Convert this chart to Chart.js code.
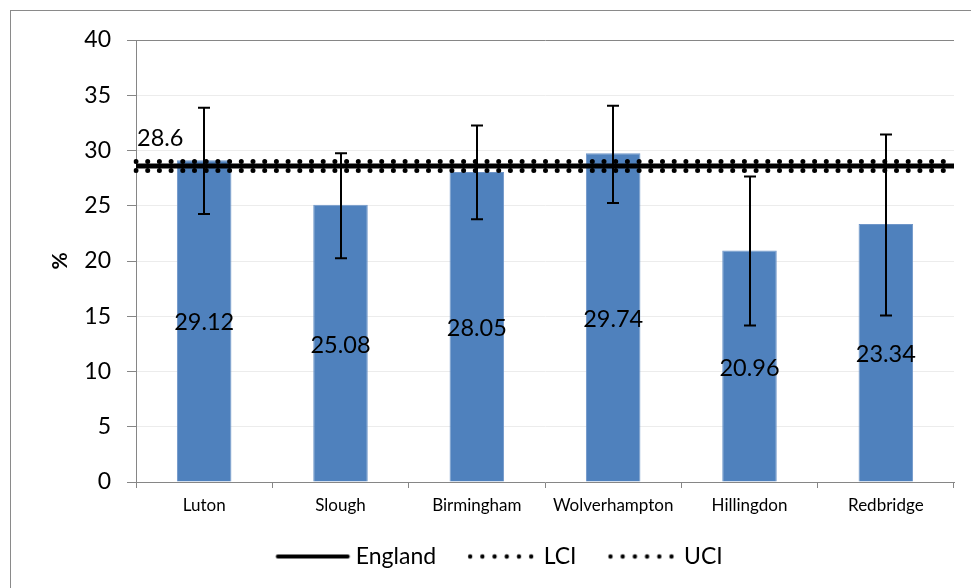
<!DOCTYPE html>
<html>
<head>
<meta charset="utf-8">
<script src="https://cdn.jsdelivr.net/npm/chart.js@4/dist/chart.umd.min.js"></script>
<style>
  html, body { margin: 0; padding: 0; background: #fff; overflow: hidden; }
  #chart { display: block; }
</style>
</head>
<body>
<canvas id="chart" width="971" height="588"></canvas>
<script>
/* Bar chart of area rates with 95% CI whiskers vs England average + CI band. */

const areas   = ["Luton", "Slough", "Birmingham", "Wolverhampton", "Hillingdon", "Redbridge"];
const rates   = [29.12, 25.08, 28.05, 29.74, 20.96, 23.34];
const ciLow   = [24.25, 20.26, 23.77, 25.25, 14.16, 15.07];
const ciHigh  = [33.86, 29.76, 32.27, 34.05, 27.64, 31.45];
const england = 28.6;
const engLCI  = 28.2;
const engUCI  = 29.0;
const yTicks  = { min: 0, max: 40, step: 5 };

const FONT = "Lato, 'Open Sans', sans-serif";
const AXIS_GREY = "#868686";
const BAR_BLUE = "#4f81bd";

// ----- legend samples (drawn into small canvases, used as point styles) -----
function legendSample(kind) {
  const c = document.createElement("canvas");
  c.width = 106; c.height = 8;
  const g = c.getContext("2d");
  g.fillStyle = "#000"; g.strokeStyle = "#000";
  if (kind === "solid") {
    g.lineWidth = 4; g.lineCap = "round";
    g.beginPath(); g.moveTo(29.5, 4); g.lineTo(99.5, 4); g.stroke();
  } else {
    for (let i = 0; i < 6; i++) {
      g.beginPath(); g.arc(34 + i * 12.2, 4, 2.2, 0, Math.PI * 2); g.fill();
    }
  }
  return c;
}
const samples = [legendSample("solid"), legendSample("dots"), legendSample("dots")];

// ----- plugin: frame, error bars, value labels, England label -----
const extras = {
  id: "extras",
  beforeDraw(chart) {
    const ctx = chart.ctx;
    ctx.save();
    ctx.fillStyle = "#fff";
    ctx.fillRect(0, 0, chart.width, chart.height);
    ctx.strokeStyle = "#8a8a8a";
    ctx.lineWidth = 1;
    ctx.strokeRect(10.5, 10.5, 1200, 1200);
    ctx.restore();
  },
  afterDatasetsDraw(chart) {
    const ctx = chart.ctx;
    const y = chart.scales.y;
    const meta = chart.getDatasetMeta(0);
    ctx.save();
    // error bars
    ctx.strokeStyle = "#000";
    ctx.lineWidth = 2;
    meta.data.forEach((bar, i) => {
      const x = Math.round(bar.x);
      const t = y.getPixelForValue(ciHigh[i]);
      const b = y.getPixelForValue(ciLow[i]);
      ctx.beginPath();
      ctx.moveTo(x, t); ctx.lineTo(x, b);
      ctx.moveTo(x - 6, t); ctx.lineTo(x + 6, t);
      ctx.moveTo(x - 6, b); ctx.lineTo(x + 6, b);
      ctx.stroke();
    });
    // value labels in the middle of each bar
    ctx.fillStyle = "#000";
    ctx.font = "23.5px " + FONT;
    ctx.textAlign = "center";
    ctx.textBaseline = "middle";
    meta.data.forEach((bar, i) => {
      ctx.fillText(rates[i].toFixed(2), bar.x, (bar.y + bar.base) / 2 + 2);
    });
    // England value label
    ctx.textAlign = "left";
    ctx.fillText(String(england), chart.chartArea.left + 1, y.getPixelForValue(england) - 28);
    ctx.restore();
  }
};

new Chart(document.getElementById("chart"), {
  type: "bar",
  data: {
    labels: areas,
    datasets: [
      { label: "Rate", data: rates, backgroundColor: BAR_BLUE, borderColor: "#6f96c9", borderWidth: 1,
        grouped: false, barPercentage: 0.4, categoryPercentage: 1, order: 3 },
      { type: "line", label: "England", data: areas.map(() => england), xAxisID: "x2",
        borderColor: "#000", borderWidth: 5, pointRadius: 0, order: 1 },
      { type: "line", label: "LCI", data: areas.map(() => engLCI), xAxisID: "x2",
        borderColor: "#000", borderWidth: 5, borderDash: [0, 11.7], borderCapStyle: "round",
        pointRadius: 0, order: 2 },
      { type: "line", label: "UCI", data: areas.map(() => engUCI), xAxisID: "x2",
        borderColor: "#000", borderWidth: 5, borderDash: [0, 11.7], borderCapStyle: "round",
        pointRadius: 0, order: 2 },
    ],
  },
  options: {
    responsive: false,
    animation: false,
    layout: { padding: { left: 27, right: 17, top: 40, bottom: 10 } },
    plugins: {
      tooltip: { enabled: false },
      legend: {
        position: "bottom",
        labels: {
          color: "#000",
          font: { family: FONT, size: 23 },
          usePointStyle: true,
          pointStyleWidth: 86,
          padding: 10,
          generateLabels: (chart) => chart.data.datasets.slice(1).map((ds, i) => ({
            text: ds.label,
            pointStyle: samples[i],
            fillStyle: "#000",
            strokeStyle: "#000",
            lineWidth: 0,
            hidden: false,
            datasetIndex: i + 1,
            fontColor: "#000",
          })),
        },
      },
    },
    scales: {
      x: {
        offset: true,
        grid: { offset: true, drawOnChartArea: false, tickLength: 6, tickColor: AXIS_GREY },
        border: { color: AXIS_GREY, width: 1 },
        ticks: { color: "#000", font: { family: FONT, size: 17 }, padding: 7, maxRotation: 0 },
        afterFit: (s) => { s.height = 53; },
      },
      x2: {
        type: "category",
        labels: areas,
        offset: false,
        display: false,
      },
      y: {
        min: yTicks.min,
        max: yTicks.max,
        ticks: { stepSize: yTicks.step, color: "#000", font: { family: FONT, size: 23 }, padding: 16 },
        grid: {
          color: (c) => (c.tick && c.tick.value === yTicks.max ? AXIS_GREY : "#ececec"),
          tickLength: 9,
          tickColor: AXIS_GREY,
        },
        border: { color: AXIS_GREY, width: 1 },
        title: { display: true, text: "%", color: "#000", font: { family: FONT, size: 21, weight: "bold" },
                 padding: { top: 21, bottom: 0 } },
        afterFit: (s) => { s.width = 109; },
      },
    },
  },
  plugins: [extras],
});
</script>
</body>
</html>
